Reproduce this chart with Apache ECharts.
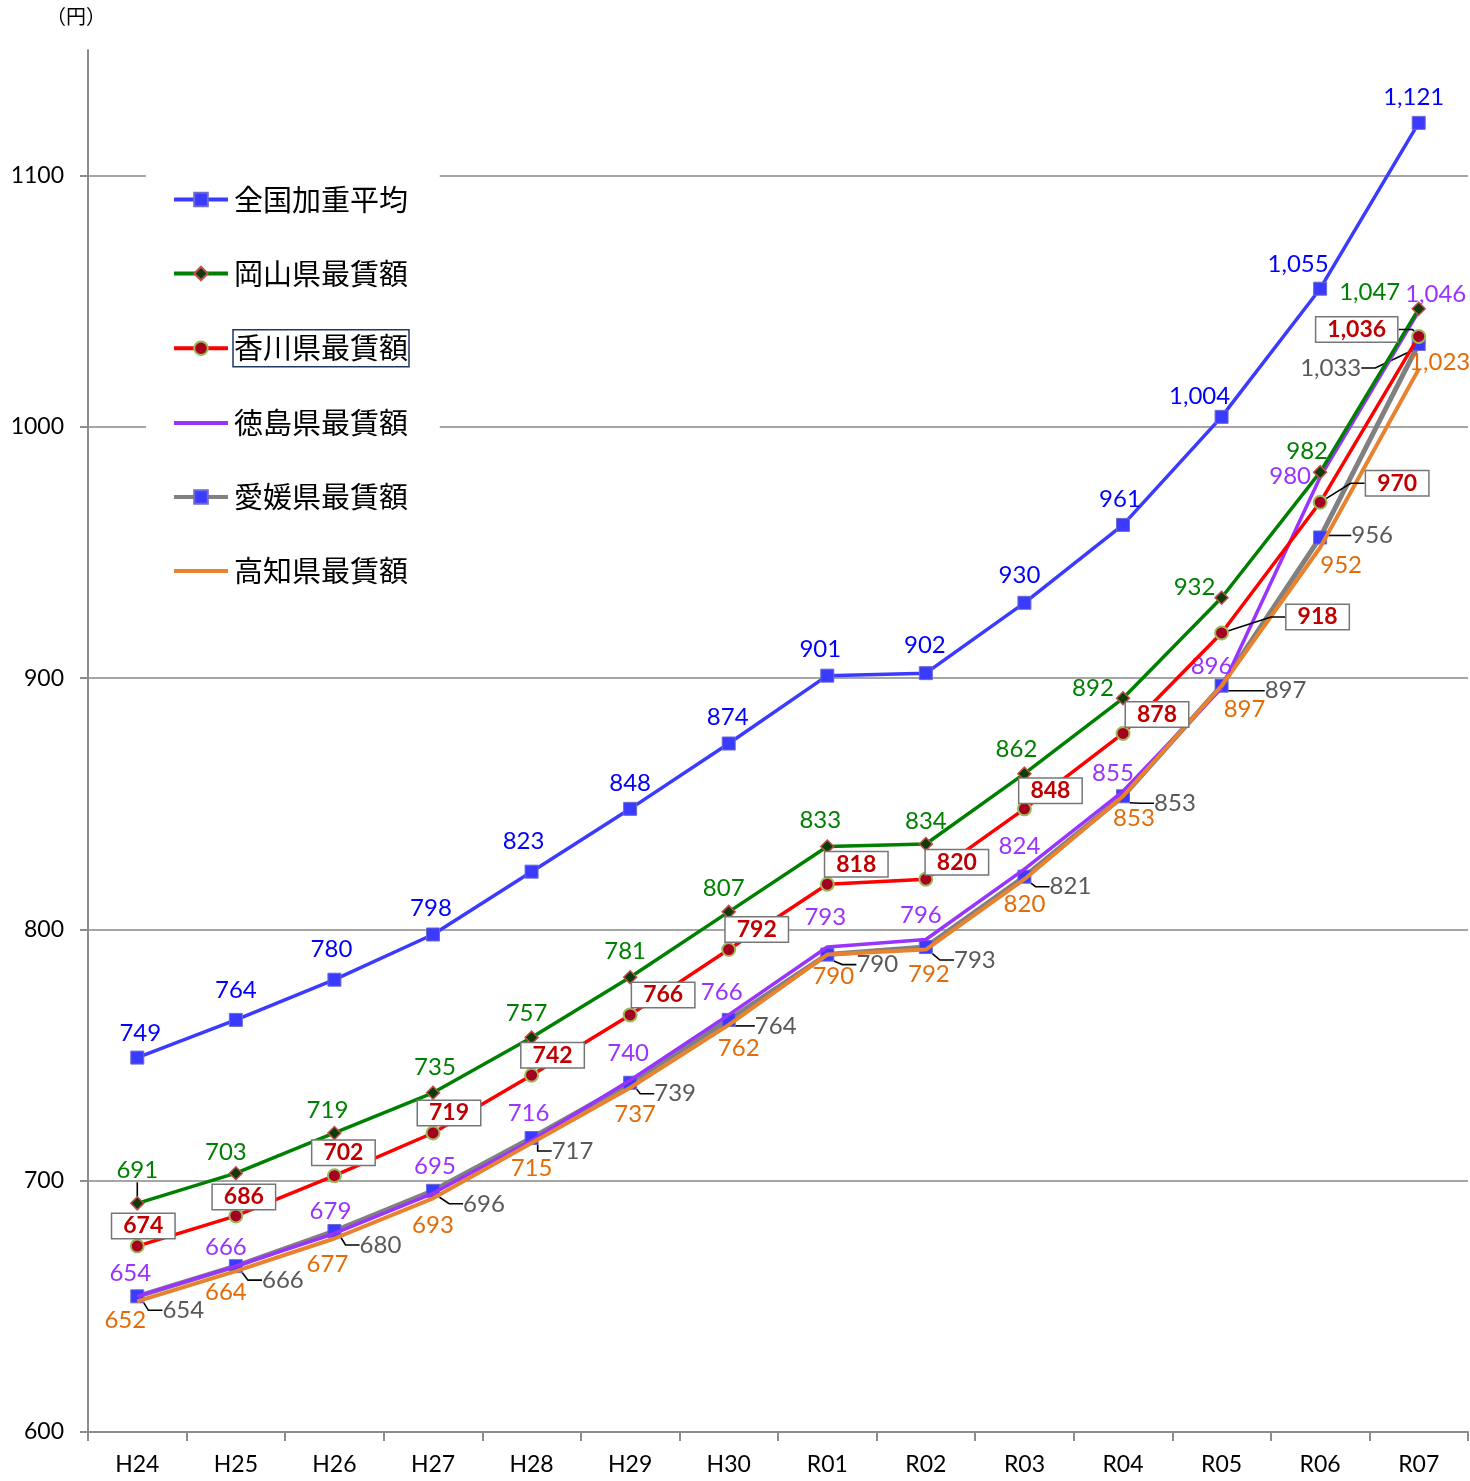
<!DOCTYPE html>
<html><head><meta charset="utf-8">
<script src="https://cdn.jsdelivr.net/npm/echarts@6/dist/echarts.min.js"></script>
<style>html,body{margin:0;padding:0;background:#fff}#c{width:1470px;height:1481px}</style>
</head><body><div id="c"></div>
<script>
const categories = ['H24','H25','H26','H27','H28','H29','H30','R01','R02','R03','R04','R05','R06','R07'];
const yTicks = [600,700,800,900,1000,1100];
const national = [749,764,780,798,823,848,874,901,902,930,961,1004,1055,1121];
const okayama  = [691,703,719,735,757,781,807,833,834,862,892,932,982,1047];
const kagawa   = [674,686,702,719,742,766,792,818,820,848,878,918,970,1036];
const tokushima= [654,666,679,695,716,740,766,793,796,824,855,896,980,1046];
const ehime    = [654,666,680,696,717,739,764,790,793,821,853,897,956,1033];
const kochi    = [652,664,677,693,715,737,762,790,792,820,853,897,952,1023];

// label placement (pixel offsets of label centre from the point)
const offNational = [[3,-24],[0,-30],[-3,-30],[-2,-26],[-8,-30],[0,-26],[-1,-26],[-7,-26],[-1,-28],[-5,-28],[-3,-26],[-22,-21],[-22,-24],[-5,-26]];
const offOkayama = [[0,-33],[-10,-21],[-7,-23],[2,-26],[-5,-24],[-5,-26],[-5,-24],[-7,-26],[0,-23],[-8,-24],[-30,-10],[-27,-11],[-13,-21],[-49,-17]];
const offKagawa = [[6,-20],[8,-19],[9,-23],[16,-20],[21,-20],[33,-20],[28,-20],[29,-20],[31,-17],[26,-18],[34,-19],[96,-16],[77,-19],[-62,-7]];
const offTokushima = [[-7,-23],[-10,-19],[-4,-22],[2,-27],[-3,-27],[-2,-27],[-7,-23],[-2,-30],[-5,-24],[-5,-23],[-10,-18],[-10,-22],[-30,-1],[17,-17]];
const offEhime = [[46,14],[47,14],[46,14],[51,13],[41,13],[45,11],[47,6],[50,10],[49,13],[46,10],[52,7],[64,5],[52,-2],[-88,24]];
const offKochi = [[-12,19],[-10,21],[-7,26],[0,27],[0,25],[5,27],[10,23],[6,22],[3,25],[0,25],[11,22],[23,24],[21,18],[21,-7]];

const FONT = 'Lato, "Open Sans", sans-serif';
const JFONT = '"Noto Sans CJK JP", sans-serif';

function fmt(v){ return v.toLocaleString('en-US'); }

function series(name, values, offs, cfg, leaderIdx){
  return {
    name: name, type: 'line', data: values.map((v,i)=> {
      const d = {value: v};
      if (leaderIdx && leaderIdx.indexOf(i) >= 0) d.labelLine = {show: true};
      return d;
    }),
    z: cfg.z || 2,
    symbol: cfg.symbol, symbolSize: cfg.symbolSize,
    showSymbol: true,
    lineStyle: {color: cfg.color, width: cfg.width},
    itemStyle: cfg.itemStyle,
    label: Object.assign({
      show: true, position: 'inside', fontFamily: FONT, fontSize: 24,
      color: cfg.labelColor, textBorderWidth: 0,
      formatter: p => fmt(p.value)
    }, cfg.label || {}),
    labelLine: {show: false, length2: 14, lineStyle: {color: '#000', width: 1.6}},
    labelLayout: p => ({dx: offs[p.dataIndex][0], dy: offs[p.dataIndex][1]}),
    emphasis: {disabled: true}
  };
}

const chart = echarts.init(document.getElementById('c'));
chart.setOption({
  animation: false,
  backgroundColor: '#fff',
  grid: {left: 88, right: 2, top: 50, bottom: 49},
  graphic: [{type: 'text', left: 46, top: 6, style: {text: '（円）', fontSize: 20, fontFamily: JFONT, fill: '#000'}}],
  legend: {
    orient: 'vertical', left: 146, top: 167,
    padding: [14, 30, 30, 26],
    backgroundColor: '#fff',
    itemWidth: 54, itemHeight: 17, itemGap: 37,
    selectedMode: false,
    lineStyle: {width: 4},
    textStyle: {fontFamily: JFONT, fontSize: 29, color: '#000',
      rich: {
        a: {fontFamily: JFONT, fontSize: 29, lineHeight: 30, padding: [4, 1], color: '#000'},
        b: {fontFamily: JFONT, fontSize: 29, lineHeight: 30, padding: [4, 1], color: '#000', borderColor: '#1f3864', borderWidth: 1.5}
      }},
    formatter: n => n === '香川県最賃額' ? '{b|' + n + '}' : '{a|' + n + '}',
    data: ['全国加重平均','岡山県最賃額','香川県最賃額',
      {name: '徳島県最賃額', itemStyle: {opacity: 0}},
      '愛媛県最賃額',
      {name: '高知県最賃額', itemStyle: {opacity: 0}}]
  },
  xAxis: {
    type: 'category', data: categories, boundaryGap: true,
    axisLine: {lineStyle: {color: '#8c8c8c', width: 2}},
    axisTick: {show: true, length: 9, lineStyle: {color: '#8c8c8c', width: 2}},
    axisLabel: {fontFamily: FONT, fontSize: 23, color: '#000', margin: 21}
  },
  yAxis: {
    type: 'value', min: 600, max: 1150, interval: 100,
    axisLine: {show: true, lineStyle: {color: '#8c8c8c', width: 2}},
    axisTick: {show: true, length: 8, lineStyle: {color: '#8c8c8c', width: 2}, customValues: yTicks},
    axisLabel: {fontFamily: FONT, fontSize: 23, color: '#000', margin: 24, customValues: yTicks, formatter: v => String(v)},
    splitLine: {show: true, lineStyle: {color: ['#a6a6a6','#a6a6a6','#a6a6a6','#a6a6a6','#a6a6a6','#a6a6a6','rgba(0,0,0,0)'], width: 2}}
  },
  series: [
    series('全国加重平均', national, offNational, {
      color: '#3b3bff', width: 3.5, symbol: 'rect', symbolSize: 13, labelColor: '#0000ff',
      itemStyle: {color: '#3b3bff', borderColor: '#6b6bd0', borderWidth: 1}, z: 3
    }),
    series('岡山県最賃額', okayama, offOkayama, {
      color: '#008000', width: 3.5, symbol: 'diamond', symbolSize: 13, labelColor: '#008000',
      itemStyle: {color: '#0d3d0d', borderColor: '#c0504d', borderWidth: 1.5}, z: 3
    }, [0]),
    series('香川県最賃額', kagawa, offKagawa, {
      color: '#ff0000', width: 3.5, symbol: 'circle', symbolSize: 13, labelColor: '#c00000',
      itemStyle: {color: '#a50021', borderColor: '#9bbb59', borderWidth: 2}, z: 3,
      label: {fontWeight: 'bold', backgroundColor: '#fff', borderColor: '#767676', borderWidth: 1.5, padding: [1, 11, 0, 11], fontSize: 23}
    }, [11, 12, 13]),
    series('徳島県最賃額', tokushima, offTokushima, {
      color: '#9933ff', width: 3.5, symbol: 'circle', symbolSize: 1, labelColor: '#9933ff',
      itemStyle: {color: '#9933ff'}, z: 2
    }),
    series('愛媛県最賃額', ehime, offEhime, {
      color: '#808080', width: 5, symbol: 'rect', symbolSize: 13, labelColor: '#595959',
      itemStyle: {color: '#3b3bff', borderColor: '#6b6bd0', borderWidth: 1}, z: 1
    }, [0,1,2,3,4,5,6,7,8,9,10,11,12,13]),
    series('高知県最賃額', kochi, offKochi, {
      color: '#e8822e', width: 4, symbol: 'circle', symbolSize: 1, labelColor: '#e36c09',
      itemStyle: {color: '#e8822e'}, z: 2
    })
  ]
});
</script></body></html>
